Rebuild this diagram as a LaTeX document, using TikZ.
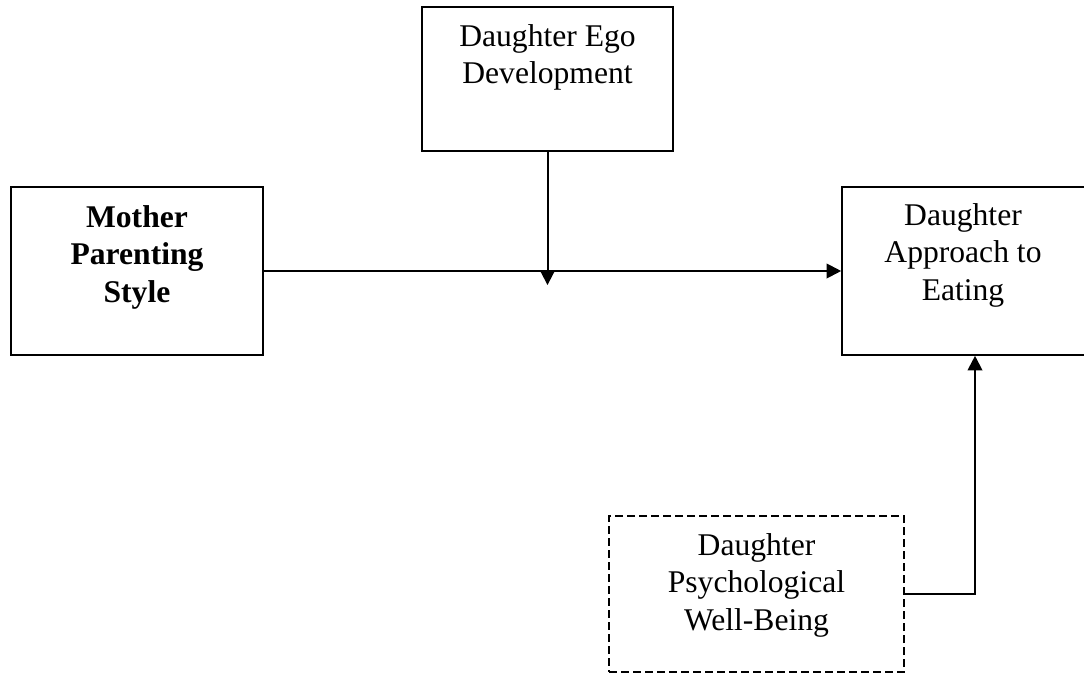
\documentclass[tikz,border=0pt]{standalone}
\usepackage{fontspec}
\setmainfont{Liberation Serif}
\usetikzlibrary{arrows.meta,calc}
\begin{document}
\begin{tikzpicture}[x=0.75pt,y=-0.75pt,
  boxthick/.style={draw,line width=1.6pt,inner sep=0pt},
  boxthin/.style={draw,line width=1.2pt,inner sep=0pt},
  boxdash/.style={draw,line width=1.2pt,dash pattern=on 6pt off 3pt,inner sep=0pt},
  label/.style={anchor=base,align=center,inner sep=0pt,font=\fontsize{23.7}{28}\selectfont},
  conn/.style={line width=1.5pt,-{Triangle[length=11pt,width=11pt]}}
]
\useasboundingbox (0,0) rectangle (1084,677);
\clip (0,0) rectangle (1084,677);

\node[boxthick,minimum width=189pt,minimum height=126pt] (mother) at (137,271) {};
\node[boxthick,minimum width=188.25pt,minimum height=108pt] (ego) at (547.5,79) {};
\node[boxthin,minimum width=183pt,minimum height=126pt] (approach) at (964,271) {};
\node[boxdash,minimum width=221.25pt,minimum height=117pt] (psych) at (756.5,594) {};

\node[label,font=\fontsize{23.7}{28}\selectfont\bfseries] (mothert) at (137,302) {Mother\\Parenting\\Style};
\node[label] (egot) at (547.5,84) {Daughter Ego\\Development};
\node[label] (approacht) at (963,300) {Daughter\\Approach to\\Eating};
\node[label] (psycht) at (756.5,630) {Daughter\\Psychological\\Well-Being};

\coordinate (egoend) at ($(ego.south)+(0,133)$);
\coordinate (apin) at ($(approach.south)+(11,0)$);

\draw[conn] (mother.east) -- (approach.west);
\draw[conn] (ego.south) -- (egoend);
\draw[conn] (psych.east) -| (apin);
\end{tikzpicture}
\end{document}
